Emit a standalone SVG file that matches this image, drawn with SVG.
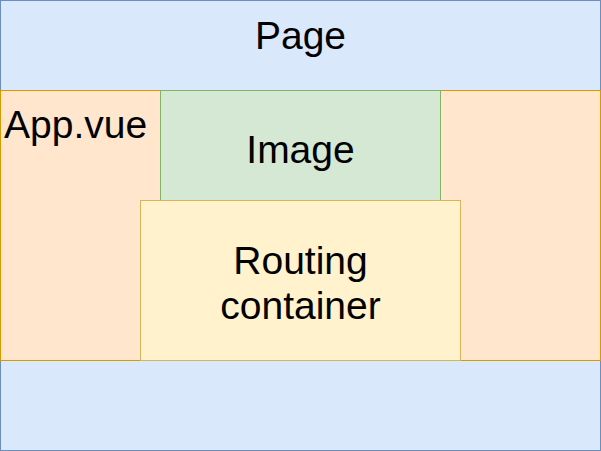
<svg xmlns="http://www.w3.org/2000/svg" width="601" height="451" viewBox="0 0 601 451">
<style>
text{font-family:"Liberation Sans",Arial,Helvetica,sans-serif;font-size:39px;fill:#000}
.c{text-anchor:middle}
</style>
<rect width="601" height="451" fill="#ffffff"/>
<g id="page"><rect x="0.5" y="0.5" width="600" height="450" fill="#dae8fc" stroke="#6c8ebf"/><text class="c" x="300.5" y="49">Page</text></g>
<g id="app"><rect x="0.5" y="90.5" width="600" height="270" fill="#ffe6cc" stroke="#d79b00"/><text x="4" y="138">App.vue</text></g>
<g id="image"><rect x="160.5" y="90.5" width="280" height="110" fill="#d5e8d4" stroke="#82b366"/><text class="c" x="300.5" y="163">Image</text></g>
<g id="routing"><rect x="140.5" y="200.5" width="320" height="160" fill="#fff2cc" stroke="#d6b656"/><text class="c" x="300.5" y="274">Routing</text><text class="c" x="300.5" y="319">container</text></g>
<g id="connectors"/>
</svg>
